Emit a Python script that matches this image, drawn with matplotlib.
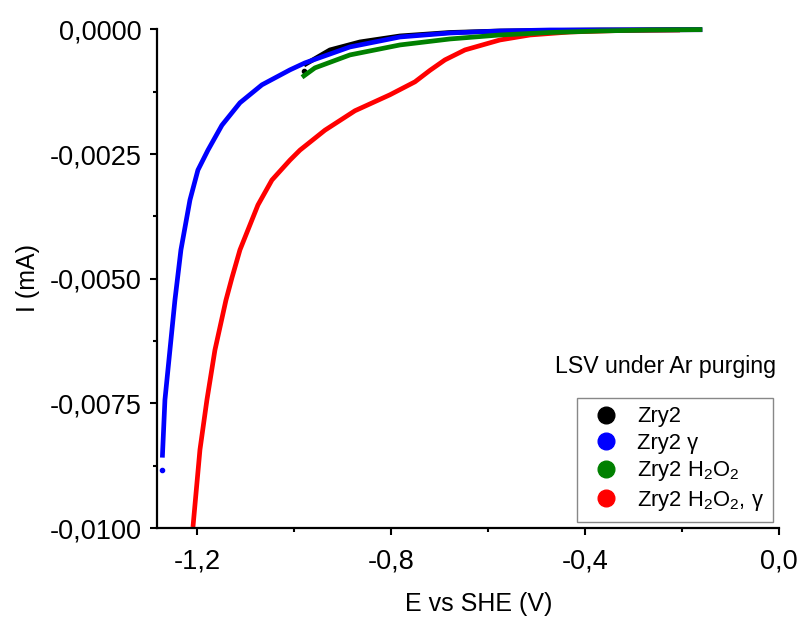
import matplotlib
matplotlib.use("Agg")
import matplotlib.pyplot as plt
from matplotlib.lines import Line2D

plt.rcParams.update({
    "font.family": ["Liberation Sans", "DejaVu Sans"],
    "mathtext.fontset": "custom",
    "mathtext.rm": "Liberation Sans",
    "mathtext.it": "Liberation Sans:italic",
    "axes.unicode_minus": False,
})

# --- data (E in V vs SHE, I in mA) ---
blue_E = [-1.2711, -1.266, -1.2557, -1.2454, -1.233, -1.2144, -1.198, -1.1773, -1.1485,
          -1.1113, -1.066, -1.0082, -0.9773, -0.8845, -0.7814, -0.6784, -0.5753, -0.4722, -0.163]
blue_I = [-8.54e-3, -7.43e-3, -6.43e-3, -5.43e-3, -4.42e-3, -3.42e-3, -2.82e-3, -2.42e-3, -1.92e-3,
          -1.47e-3, -1.11e-3, -0.81e-3, -0.67e-3, -0.35e-3, -0.15e-3, -0.07e-3, -0.03e-3, -0.01e-3, -0.004e-3]
blue_end_E = [-1.2722]
blue_end_I = [-8.84e-3]

black_E = [-0.9753, -0.9258, -0.8639, -0.7814, -0.6784, -0.5753, -0.369, -0.163]
black_I = [-0.69e-3, -0.41e-3, -0.25e-3, -0.13e-3, -0.06e-3, -0.03e-3, -0.01e-3, -0.004e-3]
black_start_E = [-0.9794]
black_start_I = [-0.83e-3]

green_E = [-0.9794, -0.9567, -0.8845, -0.7814, -0.6784, -0.5753, -0.4722, -0.369, -0.266, -0.163]
green_I = [-0.93e-3, -0.77e-3, -0.51e-3, -0.31e-3, -0.19e-3, -0.11e-3, -0.06e-3, -0.03e-3, -0.01e-3, -0.002e-3]

red_E = [-1.2082, -1.1938, -1.1794, -1.1629, -1.1402, -1.1278, -1.1113, -1.0742, -1.0454,
         -1.0082, -0.9876, -0.9361, -0.8742, -0.8021, -0.7505, -0.7196, -0.6887, -0.6474,
         -0.5753, -0.5134, -0.4309, -0.3278, -0.204]
red_I = [-9.98e-3, -8.43e-3, -7.43e-3, -6.43e-3, -5.43e-3, -4.98e-3, -4.42e-3, -3.52e-3, -3.02e-3,
         -2.62e-3, -2.42e-3, -2.02e-3, -1.63e-3, -1.31e-3, -1.05e-3, -0.82e-3, -0.61e-3, -0.41e-3,
         -0.21e-3, -0.11e-3, -0.05e-3, -0.02e-3, -0.01e-3]

labels = ["Zry2", "Zry2 γ", r"Zry2 H$_2$O$_2$", r"Zry2 H$_2$O$_2$, γ"]
colors = ["#000000", "#0000ff", "#008000", "#ff0000"]

x_ticks = [-1.2, -0.8, -0.4, 0.0]
x_ticklabels = ["-1,2", "-0,8", "-0,4", "0,0"]
y_ticks = [0.0, -0.0025, -0.005, -0.0075, -0.01]
y_ticklabels = ["0,0000", "-0,0025", "-0,0050", "-0,0075", "-0,0100"]

fig = plt.figure(figsize=(7.99, 6.17), dpi=100)
ax = fig.add_axes([0.1961, 0.1442, 0.7788, 0.8080])

lw = 3.4
ax.plot(red_E, red_I, color=colors[3], lw=lw, clip_on=False, solid_capstyle="butt",
        solid_joinstyle="round", zorder=2)
ax.plot(black_E, black_I, color=colors[0], lw=lw, clip_on=False, solid_joinstyle="round", zorder=3)
ax.plot(black_start_E, black_start_I, "o", color=colors[0], ms=3, clip_on=False, zorder=3)
ax.plot(blue_E, blue_I, color=colors[1], lw=lw, clip_on=False, solid_joinstyle="round", zorder=4)
ax.plot(blue_end_E, blue_end_I, "o", color=colors[1], ms=3, clip_on=False, zorder=4)
ax.plot(green_E, green_I, color=colors[2], lw=lw, clip_on=False, solid_joinstyle="round", zorder=5)

ax.set_xlim(-1.283, 0.0)
ax.set_ylim(-0.01, 0.0)

ax.set_xticks(x_ticks)
ax.set_xticklabels(x_ticklabels)
ax.set_xticks([-1.0, -0.6, -0.2], minor=True)
ax.set_yticks(y_ticks)
ax.set_yticklabels(y_ticklabels)
ax.set_yticks([-0.00125, -0.00375, -0.00625, -0.00875], minor=True)

for side in ["top", "right"]:
    ax.spines[side].set_visible(False)
for side in ["left", "bottom"]:
    ax.spines[side].set_linewidth(1.6)

ax.tick_params(which="major", direction="out", length=5, width=1.5, labelsize=19.5)
ax.tick_params(axis="x", which="major", pad=10)
ax.tick_params(axis="y", which="major", pad=6)
ax.tick_params(which="minor", direction="out", length=3, width=1.5)

ax.set_xlabel("E vs SHE (V)", fontsize=18)
ax.set_ylabel("I (mA)", fontsize=18)
ax.xaxis.set_label_coords(0.518, -0.153)
ax.xaxis.label.set_va("center")
ax.yaxis.set_label_coords(-0.2076, 0.5015)
ax.yaxis.label.set_va("center")

handles = [Line2D([], [], marker="o", color=c, linestyle="none", markersize=12) for c in colors]
leg = ax.legend(handles, labels, loc="lower right", bbox_to_anchor=(0.9678, 0.1545),
                bbox_transform=fig.transFigure, fontsize=15.8, frameon=True, fancybox=False,
                edgecolor="#888888", framealpha=1, borderpad=0.4, handlelength=1.8,
                handletextpad=0.54, labelspacing=0.25, borderaxespad=0)
leg.get_frame().set_linewidth(1.0)

fig.text(0.9712, 1 - 367 / 617, "LSV under Ar purging", ha="right", va="center", fontsize=16.7)

fig.savefig("out.png", dpi=100)
